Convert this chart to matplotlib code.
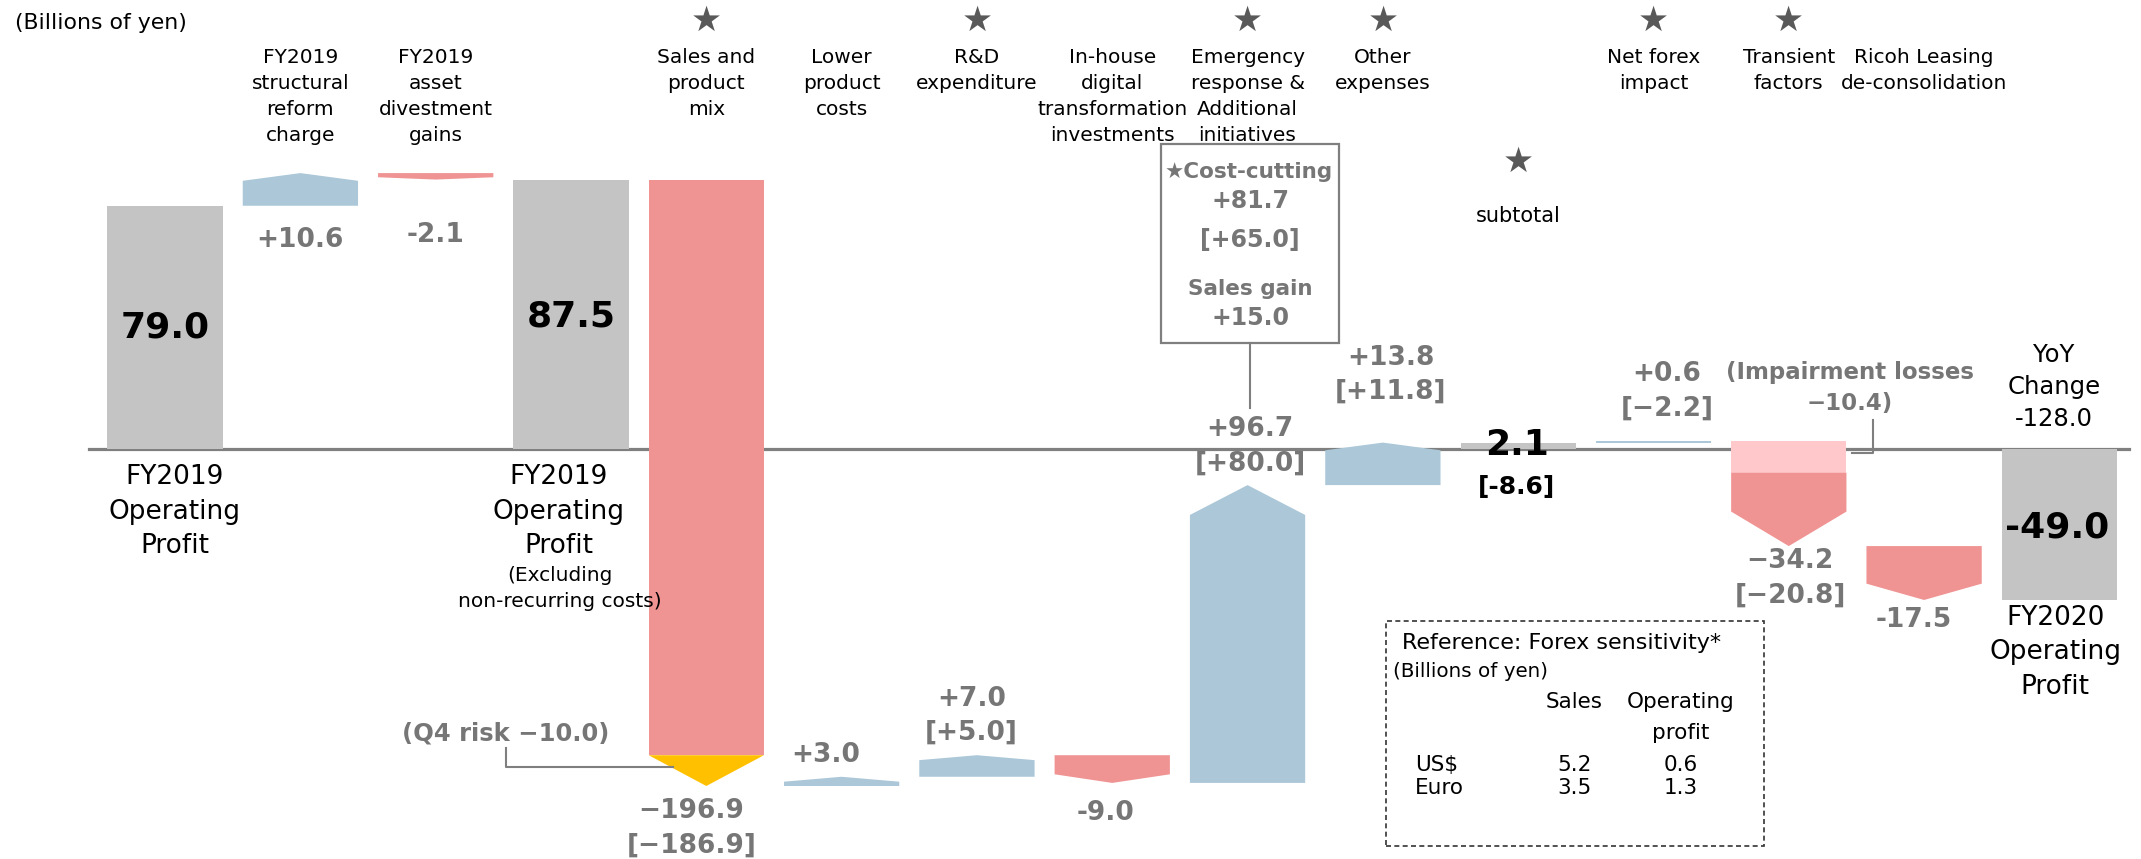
import matplotlib.pyplot as plt
from matplotlib.patches import Polygon, Rectangle

# Operating profit bridge FY2019 -> FY2020 (billions of yen)
headers = ["", "FY2019\nstructural\nreform\ncharge", "FY2019\nasset\ndivestment\ngains", "",
           "Sales and\nproduct\nmix", "Lower\nproduct\ncosts", "R&D\nexpenditure",
           "In-house\ndigital\ntransformation\ninvestments",
           "Emergency\nresponse &\nAdditional\ninitiatives", "Other\nexpenses", "",
           "Net forex\nimpact", "Transient\nfactors", "Ricoh Leasing\nde-consolidation", ""]
values = [79.0, 10.6, -2.1, 87.5, -196.9, 3.0, 7.0, -9.0, 96.7, 13.8, 2.1, 0.6, -34.2, -17.5, -49.0]
is_total = [True, False, False, True, False, False, False, False, False, False, True,
            False, False, False, True]
# figures in brackets
bracket = [None, None, None, None, -186.9, None, 5.0, None, 80.0, 11.8, -8.6, -2.2, -20.8, None, None]
starred = [4, 6, 8, 9, 11, 12]

q4_risk = -10.0
impairment = -10.4
cost_cutting = 81.7
cost_cutting_br = 65.0
sales_gain = 15.0

currencies = ["US$", "Euro"]
fx_sales = [5.2, 3.5]
fx_op = [0.6, 1.3]

# styling
GRAY_BAR = '#c4c4c4'
BLUE = '#abc7d8'
RED = '#f09393'
PINK = '#ffc9cb'
YELLOW = '#ffc000'
VAL_GRAY = '#767676'
LINE_GRAY = '#7f7f7f'
STAR = '#595959'
W = 0.852
LS = 1.42
head = [0, 2.5, 0.75, 0, 0, 1.6, 1.6, 2.8, 9.7, 2.5, 0, 0, 11.2, 5.3, 0]
wide_minus = {4, 11, 12}

plt.rcParams['font.family'] = ['DejaVu Sans']

fig = plt.figure(figsize=(21.41, 8.59), dpi=100)
ax = fig.add_axes([0, 0, 1, 1])
ax.set_xlim(-1.22, 14.603)
ax.set_ylim(-133.1, 145.8)
ax.axis('off')


def arrow(x, y0, y1, depth, color):
    half = W / 2
    neck = y1 - depth if y1 >= y0 else y1 + depth
    pts = [(x - half, y0), (x + half, y0), (x + half, neck), (x, y1), (x - half, neck)]
    ax.add_patch(Polygon(pts, closed=True, facecolor=color, edgecolor='none', zorder=2))


def fmt(v, minus='-'):
    if v > 0:
        return f"+{v:.1f}"
    return f"{minus}{abs(v):.1f}"


ax.plot([-0.562, 14.518], [0, 0], color=LINE_GRAY, lw=2.3, zorder=1)

# bars
level = 0.0
for i, v in enumerate(values):
    if is_total[i]:
        ax.bar(i, v, width=W, color=GRAY_BAR, zorder=2)
        level = v
        continue
    start, end = level, level + v
    if i == 4:
        arrow(i, start, end - q4_risk, 0, RED)
        arrow(i, end - q4_risk, end, abs(q4_risk), YELLOW)
    elif i == 12:
        arrow(i, start, start + impairment, 0, PINK)
        arrow(i, start + impairment, end, head[i], RED)
    else:
        arrow(i, start, end, head[i], BLUE if v > 0 else RED)
    level = end

# header labels
for i, h in enumerate(headers):
    if h:
        ax.text(i, 130.2, h, ha='center', va='top', fontsize=14.5, linespacing=1.46)
for i in starred:
    ax.text(i, 139, '★', ha='center', va='center', fontsize=25, color=STAR)
ax.text(10, 93.1, '★', ha='center', va='center', fontsize=25, color=STAR)
ax.text(10, 75.6, 'subtotal', ha='center', va='center', fontsize=15)
ax.text(-1.109, 138.2, '(Billions of yen)', ha='left', va='center', fontsize=15.8)

# totals
big = dict(ha='center', va='center', fontsize=26, fontweight='bold', color='black')
ax.text(0, 39.4, f"{values[0]:.1f}", **big)
ax.text(3, 43.2, f"{values[3]:.1f}", **big)
ax.text(9.99, 1.3, f"{values[10]:.1f}", **big)
ax.text(9.99, -12.2, f"[{fmt(bracket[10])}]", ha='center', va='center', fontsize=18,
        fontweight='bold', color='black')
ax.text(13.98, -25.4, f"{values[14]:.1f}", **big)

cat = dict(ha='center', va='center', fontsize=19, linespacing=LS)
ax.text(0.07, -20.3, "FY2019\nOperating\nProfit", **cat)
ax.text(2.91, -20.3, "FY2019\nOperating\nProfit", **cat)
ax.text(2.92, -45.3, "(Excluding\nnon-recurring costs)", ha='center', va='center',
        fontsize=14.5, linespacing=LS)
ax.text(13.97, -66.0, "FY2020\nOperating\nProfit", **cat)
yoy = values[14] - values[0]
ax.text(13.96, 20.1, f"YoY\nChange\n{yoy:.1f}", ha='center', va='center', fontsize=17.5,
        linespacing=LS)

# change labels
label_pos = {1: (1, 67.9), 2: (2, 69.5), 4: (3.89, -123.2), 5: (4.88, -99.4),
             6: (5.96, -86.6), 7: (6.95, -118.1), 8: (8.02, 0.8), 9: (9.06, 24.1),
             11: (11.1, 18.8), 12: (12.01, -42.0), 13: (12.92, -55.5)}
for i, (x, y) in label_pos.items():
    m = '−' if i in wide_minus else '-'
    s = fmt(values[i], m)
    if bracket[i] is not None:
        s += f"\n[{fmt(bracket[i], '−')}]"
    ax.text(x, y, s, ha='center', va='center', fontsize=19, fontweight='bold',
            color=VAL_GRAY, linespacing=LS)

gtxt = dict(ha='center', va='center', fontweight='bold', color=VAL_GRAY)
ax.text(2.52, -92.3, f"(Q4 risk {fmt(q4_risk, '−')})", fontsize=17.5, **gtxt)
ax.plot([2.52, 2.52, 3.754], [-96.9, -103.2, -103.2], color=LINE_GRAY, lw=1.5, zorder=3)

ax.text(12.45, 19.9, f"(Impairment losses\n{fmt(impairment, '−')})", fontsize=16.5,
        linespacing=LS, **gtxt)
ax.plot([12.62, 12.62, 12.47], [9.4, -1.4, -1.4], color=LINE_GRAY, lw=1.5, zorder=3)

# cost-cutting / sales gain breakdown box
ax.add_patch(Rectangle((7.358, 34.5), 8.674 - 7.358, 99.0 - 34.5, fill=False,
                       edgecolor=LINE_GRAY, lw=1.6, zorder=3))
ax.plot([8.015, 8.015], [34.5, 13.2], color=LINE_GRAY, lw=1.5, zorder=3)
ax.text(8.01, 90.0, "★Cost-cutting", fontsize=15.5, **gtxt)
ax.text(8.02, 80.5, fmt(cost_cutting), fontsize=17, **gtxt)
ax.text(8.02, 67.9, f"[{fmt(cost_cutting_br)}]", fontsize=17, **gtxt)
ax.text(8.02, 51.9, "Sales gain", fontsize=15.5, **gtxt)
ax.text(8.02, 42.4, fmt(sales_gain), fontsize=17, **gtxt)

# forex sensitivity box
ax.add_patch(Rectangle((9.025, -128.9), 11.814 - 9.025, -55.7 + 128.9, fill=False,
                       edgecolor='#333333', lw=1.2, linestyle=(0, (3, 2)), zorder=3))
ax.text(9.14, -63.1, "Reference: Forex sensitivity*", ha='left', va='center', fontsize=16)
ax.text(9.074, -72.3, "(Billions of yen)", ha='left', va='center', fontsize=14.3)
ax.text(10.416, -82.0, "Sales", ha='center', va='center', fontsize=15.5)
ax.text(11.199, -82.0, "Operating", ha='center', va='center', fontsize=15.5)
ax.text(11.199, -92.1, "profit", ha='center', va='center', fontsize=15.5)
for k, cur in enumerate(currencies):
    y = -102.6 - 7.6 * k
    ax.text(9.24, y, cur, ha='left', va='center', fontsize=15.5)
    ax.text(10.416, y, f"{fx_sales[k]:.1f}", ha='center', va='center', fontsize=15.5)
    ax.text(11.199, y, f"{fx_op[k]:.1f}", ha='center', va='center', fontsize=15.5)

fig.savefig('out.png', dpi=100)
